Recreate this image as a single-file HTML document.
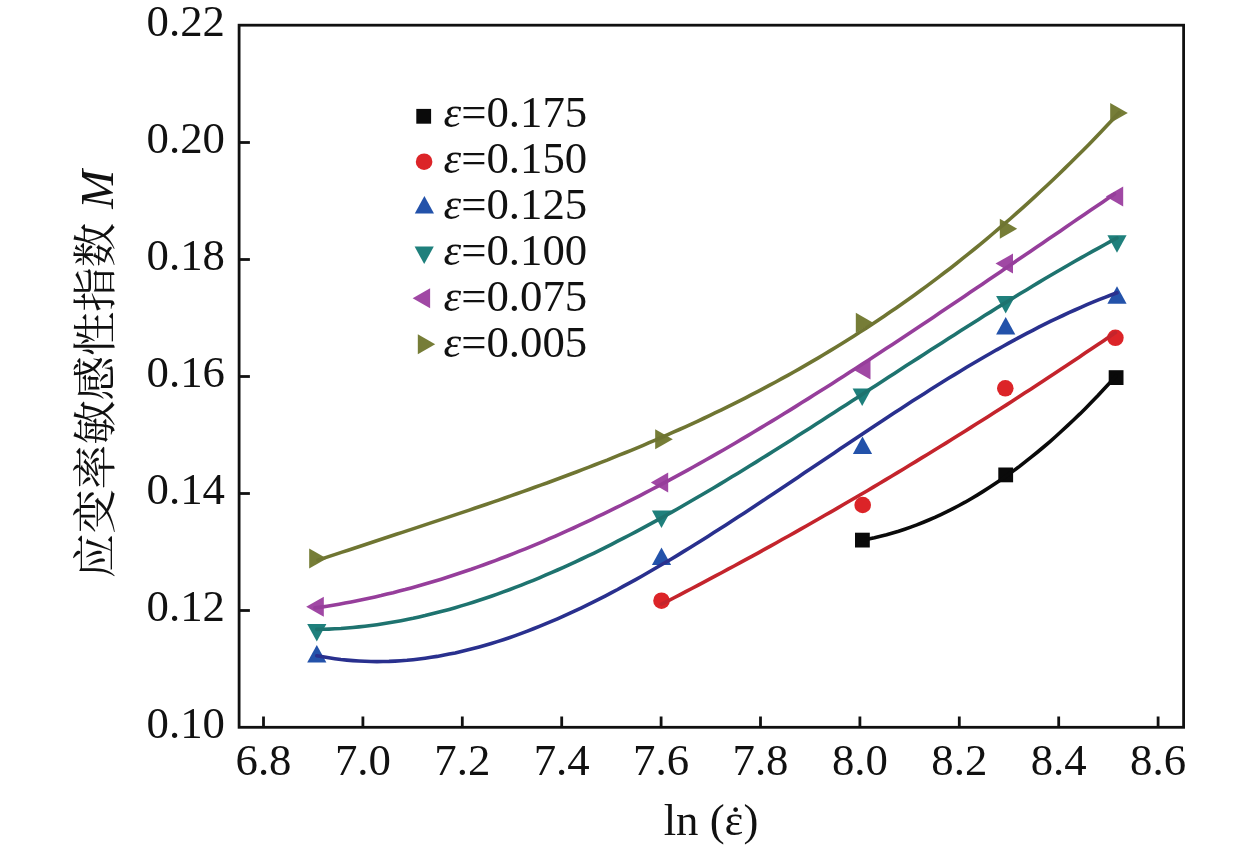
<!DOCTYPE html>
<html><head><meta charset="utf-8"><title>应变率敏感性指数</title>
<style>html,body{margin:0;padding:0;background:#fff;width:1259px;height:849px;overflow:hidden}svg{display:block}</style>
</head><body>
<svg width="1259" height="849" viewBox="0 0 1259 849">
<g><rect x="855.0" y="532.7" width="14.8" height="14.8" fill="#0a0a0a"/><rect x="998.3" y="467.5" width="14.8" height="14.8" fill="#0a0a0a"/><rect x="1108.7" y="370.2" width="14.8" height="14.8" fill="#0a0a0a"/><circle cx="661.5" cy="600.7" r="8.3" fill="#dc2428"/><circle cx="862.7" cy="505.0" r="8.3" fill="#dc2428"/><circle cx="1005.3" cy="388.3" r="8.3" fill="#dc2428"/><circle cx="1115.4" cy="337.8" r="8.3" fill="#dc2428"/><polygon points="316.8,645.1 307.2,662.6 326.4,662.6" fill="#2352aa"/><polygon points="661.5,547.5 651.9,565.0 671.1,565.0" fill="#2352aa"/><polygon points="862.5,436.6 852.9,454.1 872.1,454.1" fill="#2352aa"/><polygon points="1005.7,317.1 996.1,334.6 1015.3,334.6" fill="#2352aa"/><polygon points="1117.0,286.2 1107.4,303.8 1126.6,303.8" fill="#2352aa"/><polygon points="316.8,641.4 307.2,623.9 326.4,623.9" fill="#1f807c"/><polygon points="661.5,528.0 651.9,510.5 671.1,510.5" fill="#1f807c"/><polygon points="862.2,406.1 852.6,388.6 871.8,388.6" fill="#1f807c"/><polygon points="1005.7,313.4 996.1,295.9 1015.3,295.9" fill="#1f807c"/><polygon points="1117.0,252.8 1107.4,235.2 1126.6,235.2" fill="#1f807c"/><polygon points="306.2,606.7 323.8,596.7 323.8,616.7" fill="#a048a4"/><polygon points="650.8,482.5 668.2,472.5 668.2,492.5" fill="#a048a4"/><polygon points="853.0,369.5 870.5,359.5 870.5,379.5" fill="#a048a4"/><polygon points="995.5,263.6 1013.0,253.6 1013.0,273.6" fill="#a048a4"/><polygon points="1105.8,196.5 1123.2,186.5 1123.2,206.5" fill="#a048a4"/><polygon points="326.8,558.6 309.2,548.6 309.2,568.6" fill="#767d37"/><polygon points="672.8,439.3 655.2,429.3 655.2,449.3" fill="#767d37"/><polygon points="873.2,322.7 855.8,312.7 855.8,332.7" fill="#767d37"/><polygon points="1017.2,228.7 999.8,218.7 999.8,238.7" fill="#767d37"/><polygon points="1127.8,113.0 1110.2,103.0 1110.2,123.0" fill="#767d37"/></g>
<g><path d="M862.4,540.1 L868.4,539.0 L874.5,537.7 L880.5,536.2 L886.6,534.7 L892.6,533.0 L898.6,531.2 L904.7,529.2 L910.7,527.1 L916.8,524.9 L922.8,522.5 L928.8,520.0 L934.9,517.4 L940.9,514.6 L947.0,511.7 L953.0,508.6 L959.0,505.5 L965.1,502.2 L971.1,498.7 L977.2,495.1 L983.2,491.4 L989.2,487.6 L995.3,483.6 L1001.3,479.5 L1007.4,475.3 L1013.4,470.9 L1019.5,466.4 L1025.5,461.7 L1031.5,456.9 L1037.6,452.0 L1043.6,447.0 L1049.7,441.8 L1055.7,436.5 L1061.7,431.0 L1067.8,425.4 L1073.8,419.7 L1079.9,413.9 L1085.9,407.9 L1091.9,401.7 L1098.0,395.5 L1104.0,389.1 L1110.1,382.6 L1116.1,375.9" fill="none" stroke="#0a0a0a" stroke-width="3.6" stroke-linejoin="round" stroke-linecap="round"/><path d="M661.5,604.2 L667.6,601.1 L673.6,598.0 L679.7,594.9 L685.7,591.7 L691.8,588.5 L697.8,585.3 L703.9,582.1 L709.9,578.9 L716.0,575.7 L722.0,572.5 L728.1,569.2 L734.1,566.0 L740.2,562.7 L746.2,559.4 L752.3,556.1 L758.3,552.8 L764.4,549.4 L770.4,546.1 L776.5,542.7 L782.5,539.3 L788.6,536.0 L794.6,532.6 L800.7,529.1 L806.7,525.7 L812.8,522.3 L818.9,518.8 L824.9,515.3 L831.0,511.9 L837.0,508.4 L843.1,504.8 L849.1,501.3 L855.2,497.8 L861.2,494.2 L867.3,490.7 L873.3,487.1 L879.4,483.5 L885.4,479.9 L891.5,476.3 L897.5,472.6 L903.6,469.0 L909.6,465.3 L915.7,461.6 L921.7,457.9 L927.8,454.2 L933.8,450.5 L939.9,446.8 L945.9,443.1 L952.0,439.3 L958.0,435.5 L964.1,431.7 L970.2,427.9 L976.2,424.1 L982.3,420.3 L988.3,416.5 L994.4,412.6 L1000.4,408.7 L1006.5,404.9 L1012.5,401.0 L1018.6,397.0 L1024.6,393.1 L1030.7,389.2 L1036.7,385.2 L1042.8,381.3 L1048.8,377.3 L1054.9,373.3 L1060.9,369.3 L1067.0,365.3 L1073.0,361.3 L1079.1,357.2 L1085.1,353.1 L1091.2,349.1 L1097.2,345.0 L1103.3,340.9 L1109.3,336.8 L1115.4,332.6" fill="none" stroke="#c4242c" stroke-width="3.6" stroke-linejoin="round" stroke-linecap="round"/><path d="M316.8,655.7 L322.8,656.8 L328.8,657.8 L334.8,658.7 L340.9,659.5 L346.9,660.1 L352.9,660.6 L358.9,661.0 L364.9,661.3 L370.9,661.5 L377.0,661.6 L383.0,661.5 L389.0,661.4 L395.0,661.1 L401.0,660.7 L407.0,660.3 L413.1,659.7 L419.1,659.0 L425.1,658.2 L431.1,657.3 L437.1,656.4 L443.1,655.3 L449.2,654.1 L455.2,652.9 L461.2,651.5 L467.2,650.1 L473.2,648.6 L479.2,647.0 L485.3,645.3 L491.3,643.5 L497.3,641.6 L503.3,639.7 L509.3,637.7 L515.3,635.6 L521.4,633.4 L527.4,631.1 L533.4,628.8 L539.4,626.4 L545.4,623.9 L551.4,621.4 L557.5,618.8 L563.5,616.1 L569.5,613.4 L575.5,610.6 L581.5,607.8 L587.5,604.9 L593.6,601.9 L599.6,598.9 L605.6,595.8 L611.6,592.6 L617.6,589.5 L623.6,586.2 L629.7,582.9 L635.7,579.6 L641.7,576.2 L647.7,572.8 L653.7,569.3 L659.7,565.8 L665.8,562.3 L671.8,558.7 L677.8,555.1 L683.8,551.4 L689.8,547.7 L695.8,544.0 L701.9,540.2 L707.9,536.4 L713.9,532.6 L719.9,528.8 L725.9,524.9 L731.9,521.0 L738.0,517.1 L744.0,513.2 L750.0,509.3 L756.0,505.3 L762.0,501.3 L768.0,497.3 L774.1,493.3 L780.1,489.3 L786.1,485.3 L792.1,481.2 L798.1,477.2 L804.1,473.1 L810.2,469.1 L816.2,465.0 L822.2,461.0 L828.2,456.9 L834.2,452.9 L840.2,448.8 L846.3,444.8 L852.3,440.7 L858.3,436.7 L864.3,432.7 L870.3,428.7 L876.3,424.7 L882.4,420.7 L888.4,416.7 L894.4,412.8 L900.4,408.9 L906.4,405.0 L912.4,401.1 L918.5,397.2 L924.5,393.4 L930.5,389.6 L936.5,385.8 L942.5,382.0 L948.5,378.3 L954.6,374.6 L960.6,371.0 L966.6,367.3 L972.6,363.8 L978.6,360.2 L984.6,356.7 L990.7,353.3 L996.7,349.8 L1002.7,346.5 L1008.7,343.1 L1014.7,339.8 L1020.7,336.6 L1026.8,333.4 L1032.8,330.3 L1038.8,327.2 L1044.8,324.2 L1050.8,321.2 L1056.8,318.3 L1062.9,315.5 L1068.9,312.7 L1074.9,310.0 L1080.9,307.3 L1086.9,304.7 L1092.9,302.2 L1099.0,299.7 L1105.0,297.3 L1111.0,295.0 L1117.0,292.8" fill="none" stroke="#29308e" stroke-width="3.6" stroke-linejoin="round" stroke-linecap="round"/><path d="M316.8,629.4 L322.8,629.3 L328.8,629.1 L334.8,628.8 L340.9,628.5 L346.9,628.0 L352.9,627.5 L358.9,626.9 L364.9,626.2 L370.9,625.5 L377.0,624.7 L383.0,623.8 L389.0,622.8 L395.0,621.8 L401.0,620.7 L407.0,619.5 L413.1,618.3 L419.1,616.9 L425.1,615.6 L431.1,614.1 L437.1,612.6 L443.1,611.0 L449.2,609.4 L455.2,607.7 L461.2,605.9 L467.2,604.1 L473.2,602.2 L479.2,600.3 L485.3,598.3 L491.3,596.2 L497.3,594.1 L503.3,591.9 L509.3,589.7 L515.3,587.4 L521.4,585.1 L527.4,582.7 L533.4,580.3 L539.4,577.8 L545.4,575.2 L551.4,572.7 L557.5,570.0 L563.5,567.3 L569.5,564.6 L575.5,561.8 L581.5,559.0 L587.5,556.2 L593.6,553.3 L599.6,550.3 L605.6,547.3 L611.6,544.3 L617.6,541.2 L623.6,538.1 L629.7,535.0 L635.7,531.8 L641.7,528.6 L647.7,525.4 L653.7,522.1 L659.7,518.8 L665.8,515.5 L671.8,512.1 L677.8,508.7 L683.8,505.2 L689.8,501.8 L695.8,498.3 L701.9,494.8 L707.9,491.2 L713.9,487.7 L719.9,484.1 L725.9,480.5 L731.9,476.8 L738.0,473.2 L744.0,469.5 L750.0,465.8 L756.0,462.1 L762.0,458.3 L768.0,454.6 L774.1,450.8 L780.1,447.0 L786.1,443.2 L792.1,439.4 L798.1,435.6 L804.1,431.8 L810.2,427.9 L816.2,424.1 L822.2,420.2 L828.2,416.3 L834.2,412.5 L840.2,408.6 L846.3,404.7 L852.3,400.8 L858.3,396.9 L864.3,393.0 L870.3,389.1 L876.3,385.2 L882.4,381.3 L888.4,377.3 L894.4,373.4 L900.4,369.5 L906.4,365.6 L912.4,361.7 L918.5,357.9 L924.5,354.0 L930.5,350.1 L936.5,346.2 L942.5,342.4 L948.5,338.5 L954.6,334.7 L960.6,330.8 L966.6,327.0 L972.6,323.2 L978.6,319.4 L984.6,315.6 L990.7,311.9 L996.7,308.1 L1002.7,304.4 L1008.7,300.7 L1014.7,297.0 L1020.7,293.3 L1026.8,289.7 L1032.8,286.0 L1038.8,282.4 L1044.8,278.8 L1050.8,275.3 L1056.8,271.8 L1062.9,268.2 L1068.9,264.8 L1074.9,261.3 L1080.9,257.9 L1086.9,254.5 L1092.9,251.1 L1099.0,247.8 L1105.0,244.5 L1111.0,241.2 L1117.0,238.0" fill="none" stroke="#1e736f" stroke-width="3.6" stroke-linejoin="round" stroke-linecap="round"/><path d="M315.0,607.9 L321.0,607.1 L327.0,606.2 L333.0,605.2 L339.0,604.2 L345.1,603.1 L351.1,602.0 L357.1,600.8 L363.1,599.6 L369.1,598.3 L375.1,596.9 L381.1,595.6 L387.1,594.1 L393.1,592.7 L399.2,591.1 L405.2,589.6 L411.2,587.9 L417.2,586.3 L423.2,584.6 L429.2,582.8 L435.2,581.0 L441.2,579.2 L447.2,577.3 L453.3,575.3 L459.3,573.3 L465.3,571.3 L471.3,569.3 L477.3,567.1 L483.3,565.0 L489.3,562.8 L495.3,560.6 L501.3,558.3 L507.4,556.0 L513.4,553.6 L519.4,551.2 L525.4,548.8 L531.4,546.3 L537.4,543.8 L543.4,541.3 L549.4,538.7 L555.5,536.1 L561.5,533.4 L567.5,530.7 L573.5,528.0 L579.5,525.2 L585.5,522.4 L591.5,519.6 L597.5,516.7 L603.5,513.8 L609.6,510.9 L615.6,507.9 L621.6,505.0 L627.6,501.9 L633.6,498.9 L639.6,495.8 L645.6,492.7 L651.6,489.5 L657.6,486.4 L663.7,483.2 L669.7,479.9 L675.7,476.7 L681.7,473.4 L687.7,470.1 L693.7,466.7 L699.7,463.4 L705.7,460.0 L711.7,456.6 L717.8,453.1 L723.8,449.7 L729.8,446.2 L735.8,442.7 L741.8,439.1 L747.8,435.6 L753.8,432.0 L759.8,428.4 L765.8,424.8 L771.9,421.1 L777.9,417.5 L783.9,413.8 L789.9,410.1 L795.9,406.4 L801.9,402.6 L807.9,398.9 L813.9,395.1 L819.9,391.3 L826.0,387.5 L832.0,383.7 L838.0,379.8 L844.0,376.0 L850.0,372.1 L856.0,368.2 L862.0,364.3 L868.0,360.4 L874.0,356.5 L880.1,352.6 L886.1,348.6 L892.1,344.7 L898.1,340.7 L904.1,336.7 L910.1,332.7 L916.1,328.7 L922.1,324.7 L928.2,320.7 L934.2,316.7 L940.2,312.6 L946.2,308.6 L952.2,304.5 L958.2,300.5 L964.2,296.4 L970.2,292.3 L976.2,288.3 L982.3,284.2 L988.3,280.1 L994.3,276.0 L1000.3,271.9 L1006.3,267.8 L1012.3,263.7 L1018.3,259.6 L1024.3,255.5 L1030.3,251.4 L1036.4,247.3 L1042.4,243.2 L1048.4,239.1 L1054.4,235.0 L1060.4,230.9 L1066.4,226.8 L1072.4,222.6 L1078.4,218.5 L1084.4,214.4 L1090.5,210.3 L1096.5,206.3 L1102.5,202.2 L1108.5,198.1 L1114.5,194.0" fill="none" stroke="#963e9b" stroke-width="3.6" stroke-linejoin="round" stroke-linecap="round"/><path d="M318.0,560.1 L324.0,558.1 L330.0,556.1 L336.1,554.1 L342.1,552.1 L348.1,550.2 L354.1,548.2 L360.2,546.2 L366.2,544.2 L372.2,542.2 L378.2,540.3 L384.2,538.3 L390.3,536.3 L396.3,534.3 L402.3,532.4 L408.3,530.4 L414.4,528.4 L420.4,526.4 L426.4,524.4 L432.4,522.4 L438.5,520.4 L444.5,518.4 L450.5,516.4 L456.5,514.4 L462.5,512.4 L468.6,510.4 L474.6,508.3 L480.6,506.3 L486.6,504.2 L492.7,502.1 L498.7,500.1 L504.7,498.0 L510.7,495.9 L516.7,493.8 L522.8,491.6 L528.8,489.5 L534.8,487.3 L540.8,485.1 L546.9,483.0 L552.9,480.7 L558.9,478.5 L564.9,476.3 L570.9,474.0 L577.0,471.7 L583.0,469.4 L589.0,467.1 L595.0,464.8 L601.1,462.4 L607.1,460.1 L613.1,457.6 L619.1,455.2 L625.2,452.8 L631.2,450.3 L637.2,447.8 L643.2,445.3 L649.2,442.7 L655.3,440.1 L661.3,437.5 L667.3,434.9 L673.3,432.2 L679.4,429.5 L685.4,426.8 L691.4,424.1 L697.4,421.3 L703.4,418.5 L709.5,415.6 L715.5,412.7 L721.5,409.8 L727.5,406.9 L733.6,403.9 L739.6,400.9 L745.6,397.8 L751.6,394.7 L757.6,391.6 L763.7,388.4 L769.7,385.2 L775.7,382.0 L781.7,378.7 L787.8,375.4 L793.8,372.0 L799.8,368.6 L805.8,365.1 L811.8,361.6 L817.9,358.1 L823.9,354.5 L829.9,350.9 L835.9,347.2 L842.0,343.5 L848.0,339.8 L854.0,336.0 L860.0,332.1 L866.1,328.2 L872.1,324.3 L878.1,320.3 L884.1,316.2 L890.1,312.1 L896.2,307.9 L902.2,303.7 L908.2,299.5 L914.2,295.2 L920.3,290.8 L926.3,286.4 L932.3,281.9 L938.3,277.4 L944.3,272.8 L950.4,268.2 L956.4,263.5 L962.4,258.7 L968.4,253.9 L974.5,249.0 L980.5,244.1 L986.5,239.1 L992.5,234.0 L998.5,228.9 L1004.6,223.7 L1010.6,218.5 L1016.6,213.2 L1022.6,207.8 L1028.7,202.4 L1034.7,196.9 L1040.7,191.3 L1046.7,185.7 L1052.8,180.0 L1058.8,174.2 L1064.8,168.4 L1070.8,162.5 L1076.8,156.5 L1082.9,150.5 L1088.9,144.4 L1094.9,138.2 L1100.9,131.9 L1107.0,125.6 L1113.0,119.2 L1119.0,112.7" fill="none" stroke="#6f7532" stroke-width="3.6" stroke-linejoin="round" stroke-linecap="round"/></g>
<g><rect x="239.1" y="25.2" width="944.5" height="702.1" fill="none" stroke="#111" stroke-width="2.8"/><line x1="263.5" y1="727.3" x2="263.5" y2="716.5" stroke="#111" stroke-width="2.8"/><line x1="362.9" y1="727.3" x2="362.9" y2="716.5" stroke="#111" stroke-width="2.8"/><line x1="462.3" y1="727.3" x2="462.3" y2="716.5" stroke="#111" stroke-width="2.8"/><line x1="561.7" y1="727.3" x2="561.7" y2="716.5" stroke="#111" stroke-width="2.8"/><line x1="661.1" y1="727.3" x2="661.1" y2="716.5" stroke="#111" stroke-width="2.8"/><line x1="760.5" y1="727.3" x2="760.5" y2="716.5" stroke="#111" stroke-width="2.8"/><line x1="859.9" y1="727.3" x2="859.9" y2="716.5" stroke="#111" stroke-width="2.8"/><line x1="959.3" y1="727.3" x2="959.3" y2="716.5" stroke="#111" stroke-width="2.8"/><line x1="1058.7" y1="727.3" x2="1058.7" y2="716.5" stroke="#111" stroke-width="2.8"/><line x1="1158.1" y1="727.3" x2="1158.1" y2="716.5" stroke="#111" stroke-width="2.8"/><line x1="239.1" y1="142.5" x2="249.9" y2="142.5" stroke="#111" stroke-width="2.8"/><line x1="239.1" y1="259.5" x2="249.9" y2="259.5" stroke="#111" stroke-width="2.8"/><line x1="239.1" y1="376.5" x2="249.9" y2="376.5" stroke="#111" stroke-width="2.8"/><line x1="239.1" y1="493.5" x2="249.9" y2="493.5" stroke="#111" stroke-width="2.8"/><line x1="239.1" y1="610.5" x2="249.9" y2="610.5" stroke="#111" stroke-width="2.8"/></g>
<g font-family="'Liberation Serif','Noto Serif CJK SC',serif" font-size="44.8" fill="#111"><text x="225" y="36.3" text-anchor="end">0.22</text><text x="225" y="153.3" text-anchor="end">0.20</text><text x="225" y="270.3" text-anchor="end">0.18</text><text x="225" y="387.3" text-anchor="end">0.16</text><text x="225" y="504.3" text-anchor="end">0.14</text><text x="225" y="621.3" text-anchor="end">0.12</text><text x="225" y="738.3" text-anchor="end">0.10</text><text x="263.5" y="774.5" text-anchor="middle">6.8</text><text x="362.9" y="774.5" text-anchor="middle">7.0</text><text x="462.3" y="774.5" text-anchor="middle">7.2</text><text x="561.7" y="774.5" text-anchor="middle">7.4</text><text x="661.1" y="774.5" text-anchor="middle">7.6</text><text x="760.5" y="774.5" text-anchor="middle">7.8</text><text x="859.9" y="774.5" text-anchor="middle">8.0</text><text x="959.3" y="774.5" text-anchor="middle">8.2</text><text x="1058.7" y="774.5" text-anchor="middle">8.4</text><text x="1158.1" y="774.5" text-anchor="middle">8.6</text><rect x="416.3" y="108.9" width="14.8" height="14.8" fill="#0a0a0a"/><text x="443.5" y="126.9"><tspan font-style="italic">ε</tspan>=0.175</text><circle cx="424.1" cy="161.7" r="8.3" fill="#dc2428"/><text x="443.5" y="172.9"><tspan font-style="italic">ε</tspan>=0.150</text><polygon points="424.4,195.9 414.8,213.4 434.0,213.4" fill="#2352aa"/><text x="443.5" y="218.9"><tspan font-style="italic">ε</tspan>=0.125</text><polygon points="424.2,264.1 414.6,246.6 433.8,246.6" fill="#1f807c"/><text x="443.5" y="264.9"><tspan font-style="italic">ε</tspan>=0.100</text><polygon points="412.6,298.2 430.1,288.2 430.1,308.2" fill="#a048a4"/><text x="443.5" y="310.9"><tspan font-style="italic">ε</tspan>=0.075</text><polygon points="435.2,344.2 417.8,334.2 417.8,354.2" fill="#767d37"/><text x="443.5" y="356.9"><tspan font-style="italic">ε</tspan>=0.005</text><text x="711" y="835" text-anchor="middle">ln (ε)</text><text x="735.5" y="836.7" text-anchor="middle" font-size="44">˙</text><text transform="translate(111,578) rotate(-90)" font-size="44.4">应变率敏感性指数<tspan dx="14" dy="1.5" font-style="italic" font-size="46.5">M</tspan></text></g>
</svg>
</body></html>
